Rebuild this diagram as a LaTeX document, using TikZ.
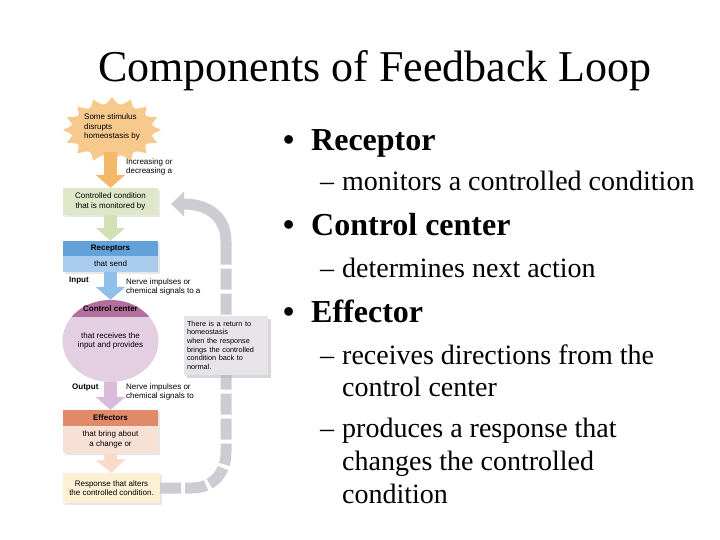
\documentclass[tikz,border=0pt]{standalone}
\usepackage{fontspec}
\setmainfont{Liberation Serif}
\setsansfont{Liberation Sans}
\usetikzlibrary{shapes.geometric,arrows.meta,shadows}
\definecolor{burstfill}{HTML}{F7C98C}
\definecolor{burstarrow}{HTML}{F4B868}
\definecolor{condfill}{HTML}{DEE8C8}
\definecolor{condarrow}{HTML}{D3E0B4}
\definecolor{rechead}{HTML}{62A2D8}
\definecolor{recbody}{HTML}{AACDEE}
\definecolor{recarrow}{HTML}{8FC0EA}
\definecolor{ctrlhead}{HTML}{B26F9E}
\definecolor{ctrlbody}{HTML}{E4CEE1}
\definecolor{ctrlarrow}{HTML}{DABBDB}
\definecolor{effhead}{HTML}{E08A6A}
\definecolor{effbody}{HTML}{F9E0D5}
\definecolor{effarrow}{HTML}{F9DACB}
\definecolor{respfill}{HTML}{FDF1D5}
\definecolor{loopgrey}{HTML}{CFCBD2}
\definecolor{notefill}{HTML}{E6E4E9}
\begin{document}
\begin{tikzpicture}[x=1pt,y=-1pt,
    every node/.style={font=\sffamily\fontsize{8}{9.2}\selectfont,inner sep=0pt},
    box/.style={minimum width=95pt,align=center,drop shadow={shadow xshift=2pt,shadow yshift=-2pt,fill=black!18}},
    hdr/.style={font=\sffamily\bfseries\fontsize{8}{9.2}\selectfont},
    blockarrow/.style={line width=13pt,-{Triangle[width=29pt,length=13pt]}},
    returnpath/.style={draw=loopgrey,line width=11pt},
    headtxt/.style={anchor=base west,font=\bfseries\fontsize{32}{38}\selectfont},
    subtxt/.style={anchor=base west,font=\fontsize{28}{33}\selectfont}]
    \useasboundingbox[fill=white] (0,0) rectangle (720,540);
    \node[anchor=base,font=\fontsize{44}{50}\selectfont] (title) at (375,82) {Components of Feedback Loop};
    % loop diagram
    \fill[burstfill] plot[domain=0:360,samples=289,variable=\t]
        ({112+(41+8*(1-abs(sin(8*\t))))*cos(\t)},{130+(26+7*(1-abs(sin(8*\t))))*sin(\t)}) -- cycle;
    \node[align=left] (stim) at (112,127) {Some stimulus\\disrupts\\homeostasis by};
    \coordinate (burst) at (110.5,152);
    \node[box,fill=condfill,minimum height=27pt] (cond) at (110.5,201.5) {Controlled condition\\that is monitored by};
    \node[box,hdr,fill=rechead,minimum height=15pt] (rechd) at (110.5,248.5) {Receptors};
    \node[box,fill=recbody,minimum height=16pt] (recbd) at (110.5,264) {that send};
    \node[ellipse,fill=ctrlbody,minimum width=96pt,minimum height=82pt,align=center] (ctrl) at (110.5,341)
        {that receives the\\input and provides};
    \begin{scope}
        \clip (ctrl.center) ellipse [x radius=48,y radius=41];
        \fill[ctrlhead] (60,295) rectangle (165,317);
    \end{scope}
    \node[hdr] (ctrlhd) at (110.5,309) {Control center};
    \node[box,hdr,fill=effhead,minimum height=16pt] (effhd) at (110.5,418) {Effectors};
    \node[box,fill=effbody,minimum height=27pt] (effbd) at (110.5,439.5) {that bring about\\a change or};
    \node[box,fill=respfill,minimum width=97pt,minimum height=30pt] (resp) at (111.5,488)
        {Response that alters\\the controlled condition.};
    \draw[blockarrow,burstarrow] (burst) -- (cond.north);
    \draw[blockarrow,condarrow] (cond.south) -- (rechd.north);
    \draw[blockarrow,recarrow] (recbd.south) -- (ctrl.north);
    \draw[blockarrow,ctrlarrow] (ctrl.south) -- (effhd.north);
    \draw[blockarrow,effarrow] (effbd.south) -- (resp.north);
    \node[anchor=west,align=left] (incr) at (126,167) {Increasing or\\decreasing a};
    \node[anchor=west,hdr] (inlab) at (69,281) {Input};
    \node[anchor=west,align=left] (nervein) at (126,287) {Nerve impulses or\\chemical signals to a};
    \node[anchor=west,hdr] (outlab) at (72,388) {Output};
    \node[anchor=west,align=left] (nerveout) at (126,392) {Nerve impulses or\\chemical signals to};
    % return to homeostasis
    \coordinate (turn) at (226,246);
    \coordinate (ret) at (171,204);
    \draw[returnpath,dash pattern=on 21pt off 4pt] (resp.east) -- (192,488)
        .. controls (212,488) and (226,474) .. (226,452) -- (turn);
    \draw[returnpath,-{Triangle[width=24pt,length=13pt]}] (turn) -- (226,242)
        .. controls (226,220) and (212,204) .. (ret);
    \node[fill=notefill,minimum width=84pt,minimum height=59pt,text width=78pt,align=left,
        drop shadow={shadow xshift=3pt,shadow yshift=-3pt,fill=black!30}] (note) at (226,345.5)
        {\fontsize{7.3}{8.6}\selectfont There is a return to\\homeostasis\\when the response\\brings the controlled\\condition back to\\normal.};
    % bullets
    \node[headtxt] (b1) at (283,151) {\textbullet};
    \node[headtxt] (h1) at (311,151) {Receptor};
    \node[subtxt] (d1) at (320,191) {–};
    \node[subtxt] (s1) at (342,191) {monitors a controlled condition};
    \node[headtxt] (b2) at (283,236) {\textbullet};
    \node[headtxt] (h2) at (311,236) {Control center};
    \node[subtxt] (d2) at (320,277) {–};
    \node[subtxt] (s2) at (342,277) {determines next action};
    \node[headtxt] (b3) at (283,322) {\textbullet};
    \node[headtxt] (h3) at (311,322) {Effector};
    \node[subtxt] (d3) at (320,364) {–};
    \node[subtxt] (s3) at (342,364) {receives directions from the};
    \node[subtxt] (s3b) at (342,396) {control center};
    \node[subtxt] (d4) at (320,437) {–};
    \node[subtxt] (s4) at (342,437) {produces a response that};
    \node[subtxt] (s4b) at (342,470) {changes the controlled};
    \node[subtxt] (s4c) at (342,503) {condition};
\end{tikzpicture}
\end{document}
